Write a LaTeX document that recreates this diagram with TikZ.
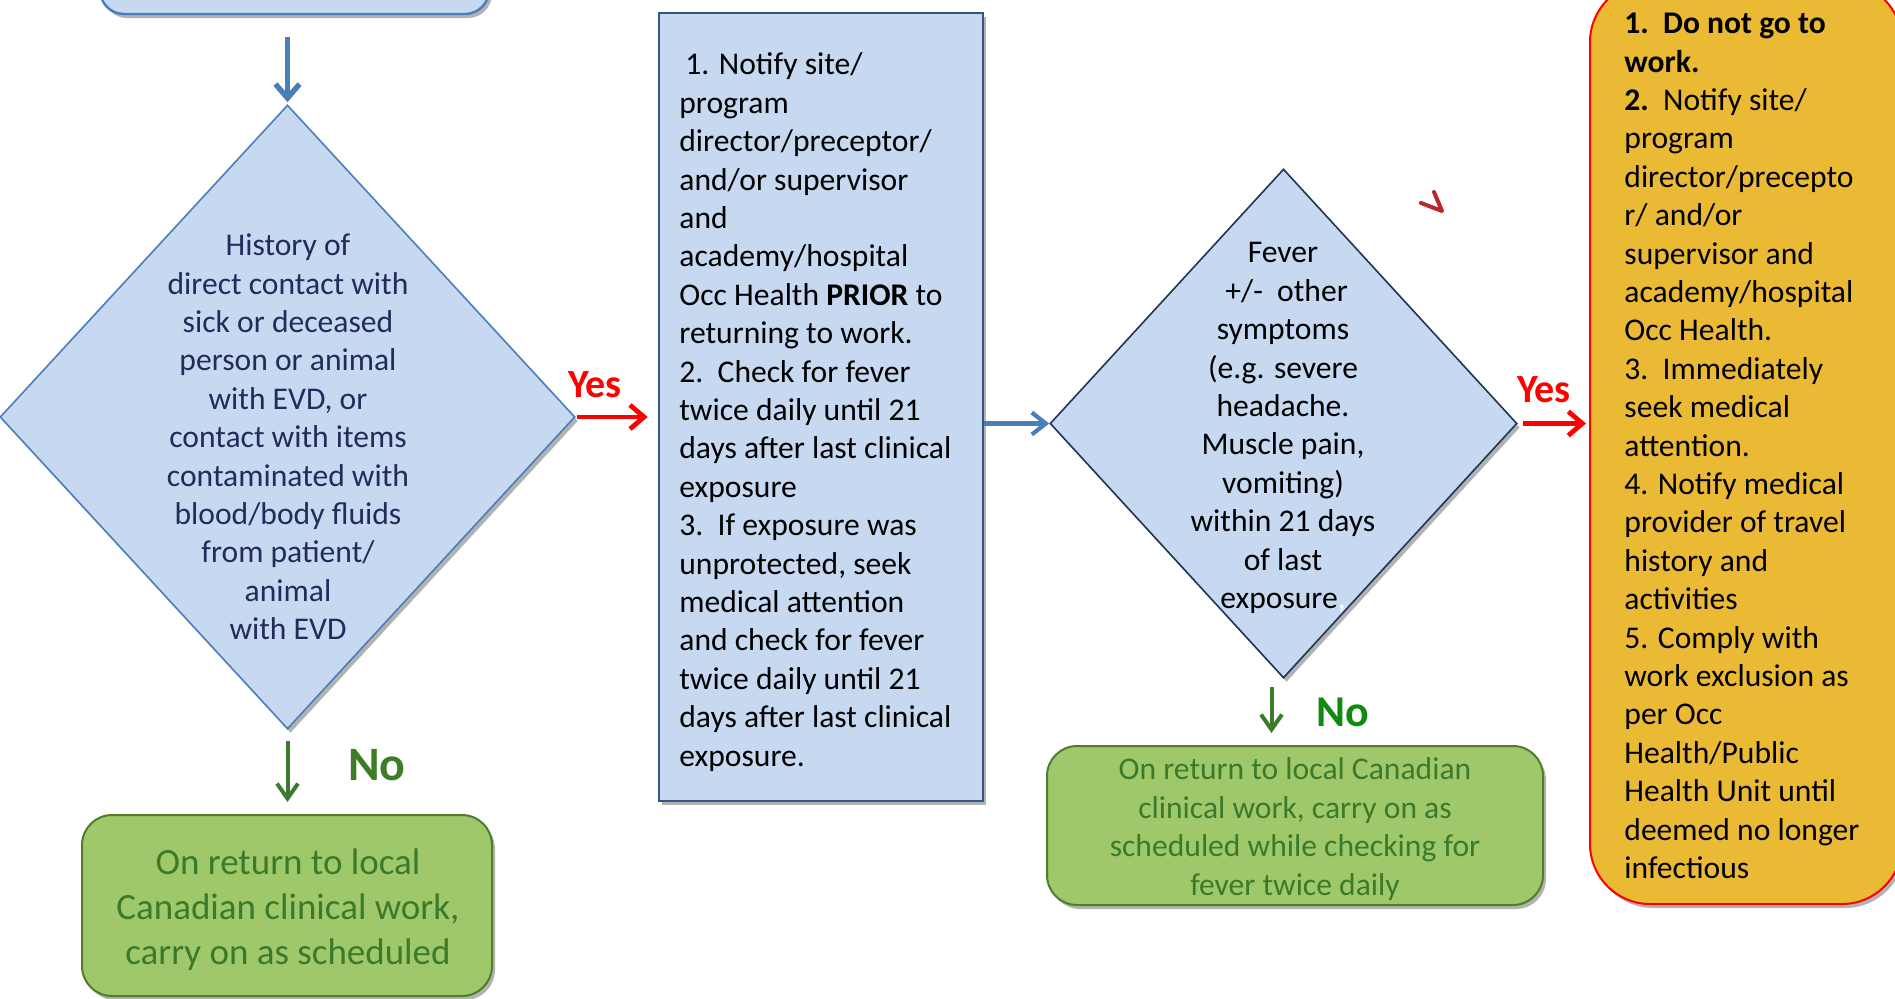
\documentclass[tikz,border=0pt]{standalone}
\usepackage{fontspec}
\setmainfont{Carlito}
\usetikzlibrary{shapes.geometric,arrows.meta,shadows,calc}
\definecolor{bfill}{HTML}{C6D9F1}
\definecolor{bline}{HTML}{4A7EBB}
\definecolor{bdark}{HTML}{34557F}
\definecolor{bnavy}{HTML}{1F3558}
\definecolor{navytext}{HTML}{232B5B}
\definecolor{gfill}{HTML}{9FC86A}
\definecolor{gline}{HTML}{4E7D2E}
\definecolor{gtext}{HTML}{3B7A2B}
\definecolor{garrow}{HTML}{3D7A2E}
\definecolor{noone}{HTML}{3C7D26}
\definecolor{notwo}{HTML}{128A12}
\definecolor{ofill}{HTML}{EBBA34}
\definecolor{markred}{HTML}{B8282E}
\newcommand{\stdfont}{\fontsize{15.8pt}{19.2pt}\selectfont}
\newcommand{\bigfont}{\fontsize{18.5pt}{22.5pt}\selectfont}
\begin{document}
\begin{tikzpicture}[x=0.5pt,y=-0.5pt,
  shad/.style={drop shadow={shadow xshift=1.5pt,shadow yshift=-2pt,opacity=0.3,fill=black}},
  bluebox/.style={draw=bline,line width=1.2pt,fill=bfill,rounded corners=12pt,shad},
  midbox/.style={draw=bdark,line width=1.3pt,fill=bfill,shad},
  dia/.style={diamond,draw,fill=bfill,line width=0.8pt,inner sep=0pt,shad},
  greenbox/.style={draw=gline,line width=1pt,fill=gfill,rounded corners=15pt,shad},
  orangebox/.style={draw=red,line width=1pt,fill=ofill,rounded corners=30pt,shad},
  txt/.style={inner sep=0pt,font=\stdfont},
  bluearrow/.style={draw=bline,line width=2.7pt,-{Straight Barb[length=7pt,width=12pt]}},
  bluearrowb/.style={draw=bline,line width=2.1pt,-{Straight Barb[length=7pt,width=11pt]}},
  redarrow/.style={draw=red,line width=2.4pt,-{Straight Barb[length=7pt,width=12pt]}},
  greenarrow/.style={draw=garrow,line width=2pt,-{Straight Barb[length=7.5pt,width=10.5pt]}},
  yeslabel/.style={text=red,font=\fontsize{20pt}{23pt}\selectfont\bfseries,inner sep=0pt},
]
\useasboundingbox (0,0) rectangle (1895,998);
\clip (0,0) rectangle (1895,998);

% top box (cut off by the page)
\node[bluebox,minimum width=194.5pt,minimum height=40pt] (top) at (294.5,-26) {};

% first decision
\node[dia,draw=bline,minimum width=287.5pt,minimum height=312pt] (d1) at (287.5,417) {};
\node[txt,text=navytext,align=center] (d1t) at (288,437) {History of\\direct contact with\\sick or deceased\\person or animal\\with EVD, or\\contact with items\\contaminated with\\blood/body fluids\\from patient/\\animal\\with EVD};

% middle box
\node[midbox,minimum width=162pt,minimum height=394pt] (mid) at (821,407) {};
\node[txt,anchor=west,align=left] (midt) at (679,412) {\hspace{3pt}1. Notify site/\\program\\director/preceptor/\\and/or supervisor\\and\\academy/hospital\\Occ Health \textbf{PRIOR} to\\returning to work.\\2.\ \ Check for fever\\twice daily until 21\\days after last clinical\\exposure\\3.\ \ If exposure was\\unprotected, seek\\medical attention\\and check for fever\\twice daily until 21\\days after last clinical\\exposure.};

% second decision
\node[dia,draw=bnavy,minimum width=233.5pt,minimum height=254.5pt] (d2) at (1283.5,423.5) {};
\node[txt,align=center] (d2t) at (1283,428) {Fever\\\ +/-\ \ other\\symptoms\\(e.g. severe\\headache.\\Muscle pain,\\vomiting)\\within 21 days\\of last\\exposure\textcolor{white}{,}};

% orange box
\node[orangebox,minimum width=156pt,minimum height=461pt] (act) at (1746,443) {};
\node[txt,anchor=west,align=left] (actt) at (1624,446) {\textbf{1.\ \ Do not go to}\\\textbf{work.}\\\textbf{2.}\ \ Notify site/\\program\\director/precepto\\r/ and/or\\supervisor and\\academy/hospital\\Occ Health.\\3.\ \ Immediately\\seek medical\\attention.\\4. Notify medical\\provider of travel\\history and\\activities\\5. Comply with\\work exclusion as\\per Occ\\Health/Public\\Health Unit until\\deemed no longer\\infectious};

% green boxes
\node[greenbox,minimum width=205pt,minimum height=90.5pt] (g1) at (287,905.5) {};
\node[inner sep=0pt,font=\bigfont,text=gtext,align=center] (g1t) at (288,910) {On return to local\\Canadian clinical work,\\carry on as scheduled};
\node[greenbox,minimum width=248pt,minimum height=79.5pt] (g2) at (1295,825.5) {};
\node[txt,text=gtext,align=center] (g2t) at (1295,829) {On return to local Canadian\\clinical work, carry on as\\scheduled while checking for\\fever twice daily};

% connectors
\draw[bluearrow,shorten <=11pt,shorten >=1pt] (top.south -| d1.north) -- (d1.north);
\draw[redarrow,shorten <=0.5pt,shorten >=5pt] (d1.east) -- (d1.east -| mid.west);
\draw[bluearrowb] (mid.east |- d2.west) -- (d2.west);
\draw[redarrow,shorten <=2.5pt,shorten >=1.5pt] (d2.east) -- (d2.east -| act.west);
\draw[greenarrow,shorten <=5.5pt,shorten >=6pt] (d1.south) -- (d1.south |- g1.north);
\draw[greenarrow,shorten <=4pt,shorten >=6pt] ([xshift=-6pt]d2.south) -- ([xshift=-6pt]d2.south |- g2.north);

% labels
\node[yeslabel] (yes1) at (595,385) {Yes};
\node[yeslabel] (yes2) at (1544,390) {Yes};
\node[text=noone,font=\fontsize{24pt}{28pt}\selectfont\bfseries,inner sep=0pt] (no1) at (377,765) {No};
\node[text=notwo,font=\fontsize{22pt}{26pt}\selectfont\bfseries,inner sep=0pt] (no2) at (1343,712) {No};

% small red mark
\draw[markred,line width=2pt,line cap=round,line join=round] (1421,203) -- (1442,211) -- (1434,192);
\end{tikzpicture}
\end{document}
